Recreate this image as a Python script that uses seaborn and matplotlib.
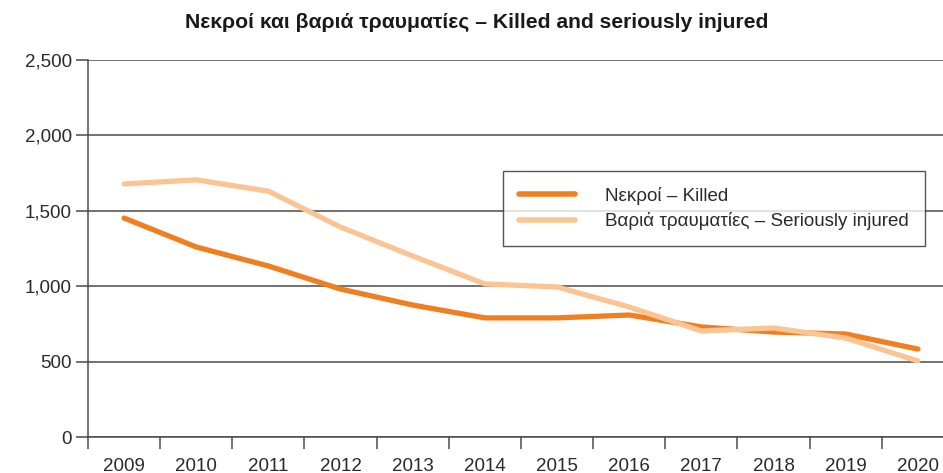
import matplotlib
matplotlib.use("Agg")
import matplotlib.pyplot as plt
import matplotlib.ticker as mticker
import numpy as np
import pandas as pd
import seaborn as sns

years = list(range(2009, 2021))
killed = [1452, 1260, 1134, 981, 875, 790, 790, 809, 730, 696, 683, 583]
injured = [1678, 1705, 1630, 1392, 1200, 1015, 995, 862, 703, 723, 656, 504]
series_names = ["Νεκροί – Killed", "Βαριά τραυματίες – Seriously injured"]
series_colors = ["#F07F22", "#FBC493"]
title = "Νεκροί και βαριά τραυματίες – Killed and seriously injured"

df = pd.DataFrame({
    "year": years * 2,
    "value": killed + injured,
    "series": [series_names[0]] * len(years) + [series_names[1]] * len(years),
})

sns.set_theme(style="white")
plt.rcParams["font.family"] = ["Liberation Sans", "DejaVu Sans"]

fig = plt.figure(figsize=(9.43, 4.73), dpi=100)
ax = fig.add_axes([88 / 943, 36 / 473, 866 / 943, 377 / 473])

sns.lineplot(data=df, x="year", y="value", hue="series", hue_order=series_names,
             palette=series_colors, linewidth=3.8, ax=ax, legend=True)

# Injured line drawn on top of killed line
lines = ax.get_lines()
lines[1].set_zorder(3)
lines[0].set_zorder(2)

ax.set_xlim(2008.5, 2020.5)
ax.set_ylim(0, 2500)
ax.set_xlabel("")
ax.set_ylabel("")

# y axis
ax.yaxis.set_major_locator(mticker.MultipleLocator(500))
ax.yaxis.set_major_formatter(mticker.FuncFormatter(lambda v, p: f"{int(v):,}"))
ax.grid(axis="y", color="#4a4a4a", linewidth=1.1)
ax.set_axisbelow(True)

# x axis: ticks at year boundaries, labels at year centers
ax.xaxis.set_major_locator(mticker.FixedLocator(np.arange(2008.5, 2020.6, 1)))
ax.xaxis.set_major_formatter(mticker.NullFormatter())
ax.xaxis.set_minor_locator(mticker.FixedLocator(years))
ax.xaxis.set_minor_formatter(mticker.FixedFormatter([str(y) for y in years]))
ax.tick_params(axis="x", which="major", length=8.5, width=1.1, color="#4a4a4a", direction="out", bottom=True)
ax.tick_params(axis="x", which="minor", length=0, labelsize=13.5, labelcolor="#2a2a2a", pad=15)
ax.tick_params(axis="y", which="major", length=8.5, width=1.1, color="#4a4a4a", direction="out", left=True,
               labelsize=13.5, labelcolor="#2a2a2a", pad=3)

for s in ["top", "right"]:
    ax.spines[s].set_visible(False)
for s in ["left", "bottom"]:
    ax.spines[s].set_color("#4a4a4a")
    ax.spines[s].set_linewidth(1.1)

leg = ax.legend(loc="upper left", bbox_to_anchor=(503 / 943, 1 - 171 / 473),
                bbox_transform=fig.transFigure, fontsize=13.5, frameon=True,
                fancybox=False, edgecolor="#2a2a2a", handlelength=3.0,
                handletextpad=1.6, borderpad=0.85, labelspacing=0.4,
                borderaxespad=0)
leg.get_frame().set_linewidth(1.0)
for t in leg.get_texts():
    t.set_color("#2a2a2a")
for h in leg.get_lines():
    h.set_linewidth(4)

fig.text(477 / 943, 1 - 22 / 473, title, ha="center", va="center",
         fontsize=15.2, fontweight="bold", color="#1a1a1a")

fig.savefig("out.png", dpi=100)
